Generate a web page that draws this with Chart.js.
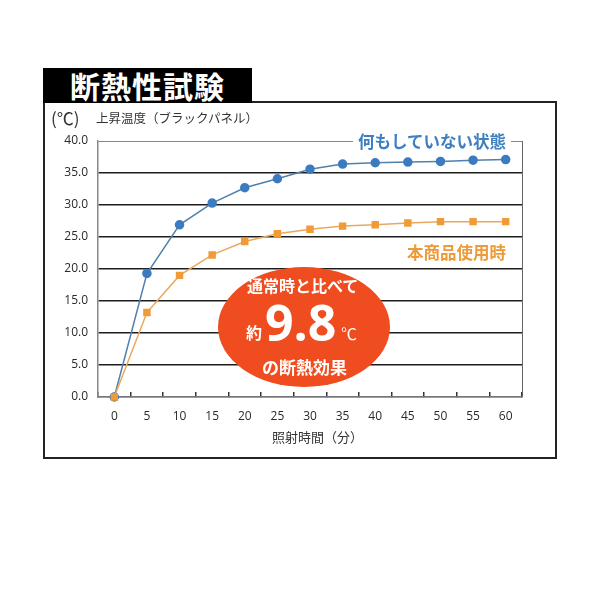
<!DOCTYPE html>
<html>
<head>
<meta charset="utf-8">
<script src="https://cdn.jsdelivr.net/npm/chart.js@4.4.1/dist/chart.umd.min.js"></script>
<style>
  html, body { margin: 0; padding: 0; background: #fff; }
  body { width: 600px; height: 600px; position: relative; overflow: hidden;
         font-family: "Noto Sans CJK JP", "Noto Sans", sans-serif; }
  #chart { position: absolute; left: 0; top: 0; }
  .abs { position: absolute; white-space: nowrap; line-height: 1; }
  #frame { position: absolute; left: 43px; top: 101px; width: 510px; height: 354px;
           border: 2px solid #222; }
  #titlebox { position: absolute; left: 43px; top: 68px; width: 209px; height: 35px;
              background: #000; color: #fff; font-weight: 700; font-size: 30px;
              line-height: 35px; text-align: center; letter-spacing: 1px; }
  #rightline { position: absolute; left: 522px; top: 141px; width: 0; height: 256px;
               border-left: 1.5px solid #666; }
  #ellipse { position: absolute; left: 218px; top: 267px; width: 172px; height: 120px;
             border-radius: 50%; background: #ef4d1f; }
  .wt { color: #fff; font-weight: 700; }
</style>
</head>
<body>
<div id="frame"></div>
<div id="titlebox">断熱性試験</div>
<canvas id="chart" width="600" height="600"></canvas>
<div id="rightline"></div>

<div class="abs" style="left:51px; top:109px; font-size:17px; color:#333;">(℃)</div>
<div class="abs" style="left:96px; top:112px; font-size:12.5px; color:#333;">上昇温度（ブラックパネル）</div>
<div class="abs" style="left:272px; top:430px; font-size:13px; color:#333;">照射時間（分）</div>

<div class="abs" style="left:353px; top:133px; font-size:16.5px; font-weight:700; color:#3d7fc0; background:#fff; padding:0 5px;">何もしていない状態</div>
<div class="abs" style="left:407px; top:244px; font-size:16.5px; font-weight:700; color:#ec9a3a;">本商品使用時</div>

<div id="ellipse"></div>
<div class="abs wt" style="left:247px; top:277px; font-size:16px;">通常時と比べて</div>
<div class="abs wt" style="left:246px; top:324px; font-size:16px;">約</div>
<div class="abs wt" style="left:265px; top:297px; font-size:50px; font-family:'Open Sans','Noto Sans',sans-serif;">9.8</div>
<div class="abs wt" style="left:341px; top:325px; font-size:16px; font-weight:400;">℃</div>
<div class="abs wt" style="left:262px; top:358px; font-size:17px;">の断熱効果</div>

<script>
// 照射時間 (分)
const minutes = ['0', '5', '10', '15', '20', '25', '30', '35', '40', '45', '50', '55', '60'];
// 何もしていない状態
const untreated = [0, 19.3, 26.9, 30.3, 32.7, 34.1, 35.6, 36.4, 36.6, 36.7, 36.8, 37.0, 37.1];
// 本商品使用時
const withProduct = [0, 13.2, 19.0, 22.2, 24.3, 25.5, 26.2, 26.7, 26.9, 27.2, 27.4, 27.4, 27.4];
const yTicks = [0, 5, 10, 15, 20, 25, 30, 35, 40];

const chart = new Chart('chart', {
  type: 'line',
  data: {
    labels: minutes,
    datasets: [
      {
        label: '本商品使用時',
        data: withProduct,
        borderColor: '#eaa85e',
        borderWidth: 1.5,
        backgroundColor: '#f09b37',
        pointBackgroundColor: '#f09b37',
        pointBorderColor: '#f09b37',
        pointStyle: 'rect',
        pointRadius: 4.2,
        tension: 0,
        clip: false,
        order: 0,
      },
      {
        label: '何もしていない状態',
        data: untreated,
        borderColor: '#5080ad',
        borderWidth: 1.5,
        backgroundColor: '#3b7cc0',
        pointBackgroundColor: '#3b7cc0',
        pointBorderColor: '#3b7cc0',
        pointStyle: 'circle',
        pointRadius: 4,
        tension: 0,
        clip: false,
        order: 1,
      },
    ],
  },
  options: {
    responsive: false,
    animation: false,
    layout: { padding: { top: 141, right: 78, left: 0, bottom: 0 } },
    plugins: {
      legend: { display: false },
      tooltip: { enabled: false },
    },
    scales: {
      x: {
        type: 'category',
        offset: true,
        afterFit: (s) => { s.height = 203; },
        grid: {
          offset: true,
          drawOnChartArea: false,
          drawTicks: true,
          tickLength: -5,
          color: '#333',
          lineWidth: 1.5,
        },
        border: { color: '#777', width: 1.5 },
        ticks: {
          color: '#2a2a2a',
          padding: 17,
          maxRotation: 0,
          autoSkip: false,
          font: { family: "'Open Sans', 'Noto Sans', sans-serif", size: 12 },
        },
      },
      y: {
        min: 0,
        max: 40,
        afterFit: (s) => { s.width = 98; },
        afterBuildTicks: (s) => { s.ticks = yTicks.map((v) => ({ value: v })); },
        grid: {
          drawTicks: false,
          color: (ctx) => (ctx.tick && (ctx.tick.value === 0 || ctx.tick.value === 40) ? '#888' : '#1e1e1e'),
          lineWidth: (ctx) => (ctx.tick && ctx.tick.value === 40 ? 1 : 1.6),
        },
        border: { color: '#888', width: 1.5 },
        ticks: {
          color: '#2a2a2a',
          padding: 10,
          callback: (v) => Number(v).toFixed(1),
          font: { family: "'Open Sans', 'Noto Sans', sans-serif", size: 12 },
        },
      },
    },
  },
});
</script>
</body>
</html>
